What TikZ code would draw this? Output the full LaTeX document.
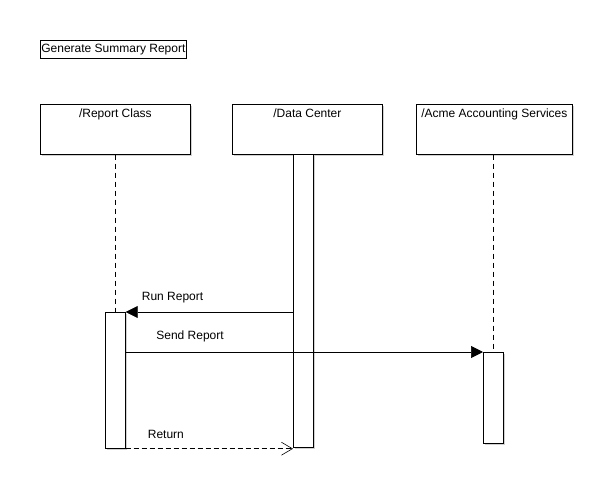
\documentclass[tikz,border=0pt]{standalone}
\usepackage{fontspec}
\setmainfont{Liberation Sans}
\usepackage{tikz}
\usetikzlibrary{positioning, arrows.meta, calc, shadows}

\begin{document}
\begin{tikzpicture}[x=1pt, y=-1pt, font=\fontsize{12}{14}\selectfont,
  line width=0.7pt,
  shade/.style={drop shadow={shadow xshift=1.5pt, shadow yshift=-1.5pt,
                opacity=1, fill=black!18}},
  head/.style={draw, fill=white, shade, minimum width=150pt, minimum height=50pt,
               anchor=north west, inner sep=0pt},
  headtext/.style={anchor=base, inner sep=0pt, yshift=-13pt},
  activ/.style={draw, fill=white, shade, minimum width=20pt, anchor=north west,
                inner sep=0pt},
  life/.style={dash pattern=on 5pt off 4pt},
  msg/.style={anchor=base, inner sep=0pt},
  sync/.style={-{Triangle[length=12pt, width=12pt]}},
  reply/.style={dash pattern=on 5pt off 3pt,
                -{Straight Barb[length=11pt, width=13pt, line width=0.6pt]}}]
  \useasboundingbox (0,0) rectangle (611,488);
  % frame title
  \node[draw, inner xsep=1pt, inner ysep=0pt, minimum height=18pt, anchor=north west]
    (title) at (40,40) {Generate Summary Report};
  % lifeline heads
  \node[head] (rc) at (40,104) {};
  \node[head] (dc) at (232,104) {};
  \node[head, minimum width=156pt] (ac) at (416,104) {};
  \node[headtext] at (rc.north) {/Report Class};
  \node[headtext] at (dc.north) {/Data Center};
  \node[headtext] at (ac.north) {/Acme Accounting Services};
  % activations
  \node[activ, minimum height=293pt] (dcact) at (293,154) {};
  \node[activ, minimum height=136pt] (rcact) at (105,312) {};
  \node[activ, minimum height=91pt]  (acact) at (483,352) {};
  % lifelines
  \draw[life] (rc.south) -- (rcact.north);
  \draw[life] (acact.north |- ac.south) -- (acact.north);
  % messages
  \draw[sync] (dcact.west |- rcact.north) -- node[msg, pos=0.72, yshift=12pt] {Run Report}
    (rcact.north east);
  \draw[sync] (rcact.east |- acact.north) -- node[msg, pos=0.18, yshift=13pt] {Send Report}
    (acact.north west);
  \draw[reply] (rcact.south east) -- node[msg, pos=0.24, yshift=10pt] {Return}
    (rcact.south east -| dcact.west);
\end{tikzpicture}
\end{document}
